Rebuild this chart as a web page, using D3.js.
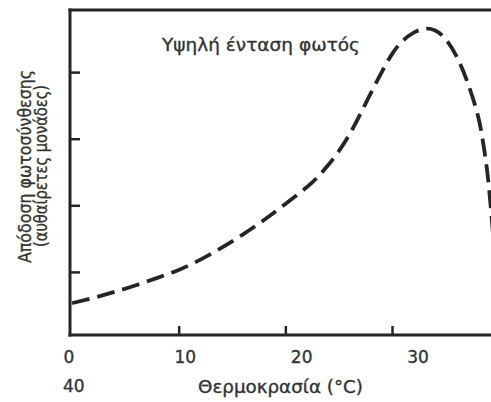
<!DOCTYPE html>
<html>
<head>
<meta charset="utf-8">
<script src="https://cdn.jsdelivr.net/npm/d3@7"></script>
<style>
  html, body { margin: 0; padding: 0; background: #fff; }
  svg { display: block; }
  text { font-family: "DejaVu Sans", "Liberation Sans", Arial, sans-serif; fill: #333; stroke: #333; stroke-width: 0.35px; }
</style>
</head>
<body>
<script>
// Temperature (°C) and photosynthesis rate (arbitrary units)
const temperature = [0, 2, 4, 6, 8, 10, 12, 14, 16, 18, 20, 22, 23, 24, 25, 26, 27, 28, 29, 30, 31, 32, 33, 34, 35, 36, 37, 38, 38.5, 39, 39.5, 40];
const rate =        [0.53, 0.61, 0.70, 0.80, 0.91, 1.03, 1.18, 1.36, 1.56, 1.78, 2.02, 2.27, 2.42, 2.60, 2.81, 3.06, 3.36, 3.68, 3.99, 4.27, 4.47, 4.59, 4.65, 4.63, 4.50, 4.25, 3.88, 3.38, 2.98, 2.40, 1.50, 0.50];
const xTicks = [10, 20, 30];
const yTicks = [1, 2, 3, 4];
const xTickLabels = ["0", "10", "20", "30", "40"];
const titleText = "Υψηλή ένταση φωτός";
const xTitle = "Θερμοκρασία (°C)";
const yTitle = ["Απόδοση φωτοσύνθεσης", "(αυθαίρετες μονάδες)"];

const W = 491, H = 402;
const svg = d3.select("body").append("svg").attr("width", W).attr("height", H);

const x = d3.scaleLinear().domain([0, 40]).range([72, 498.7]);
const y = d3.scaleLinear().domain([0, 5]).range([338.5, 5.5]);
// label positions in the picture are spread slightly wider than the ticks
const xLab = d3.scaleLinear().domain([0, 30]).range([69, 418]);

const axisY0 = 335, axisX0 = 70, frameTop = 10;
const ink = "#252525";

// frame: left, bottom, top
svg.append("line").attr("x1", axisX0).attr("x2", axisX0).attr("y1", frameTop - 1.5).attr("y2", axisY0 + 1.5)
  .attr("stroke", ink).attr("stroke-width", 3);
svg.append("line").attr("x1", axisX0 - 1.5).attr("x2", W).attr("y1", axisY0).attr("y2", axisY0)
  .attr("stroke", ink).attr("stroke-width", 3);
svg.append("line").attr("x1", axisX0 - 1.5).attr("x2", W).attr("y1", frameTop).attr("y2", frameTop)
  .attr("stroke", ink).attr("stroke-width", 3);

// x ticks (pointing up)
const xAxis = d3.axisTop(x).tickValues(xTicks).tickSize(9).tickFormat("");
const gx = svg.append("g").attr("transform", `translate(0,${axisY0})`).call(xAxis);
gx.select(".domain").remove();
gx.selectAll(".tick line").attr("stroke", ink).attr("stroke-width", 2.5);

// y ticks (pointing right)
const yAxis = d3.axisRight(y).tickValues(yTicks).tickSize(10).tickFormat("");
const gy = svg.append("g").attr("transform", `translate(${axisX0},0)`).call(yAxis);
gy.select(".domain").remove();
gy.selectAll(".tick line").attr("stroke", ink).attr("stroke-width", 2.5);

// x tick labels
svg.append("g").selectAll("text").data(xTickLabels.slice(0, 4)).join("text")
  .attr("x", d => xLab(+d)).attr("y", 363)
  .attr("text-anchor", "middle").attr("font-size", 17).text(d => d);
svg.append("text").attr("x", 63).attr("y", 392).attr("font-size", 17).text(xTickLabels[4]);

// axis titles
svg.append("text").attr("x", 198).attr("y", 393)
  .attr("font-size", 17).attr("textLength", 165).attr("lengthAdjust", "spacingAndGlyphs").text(xTitle);
const yt = svg.append("g").attr("transform", "translate(0,263) rotate(-90)");
yt.append("text").attr("x", 0).attr("y", 31).attr("font-size", 17)
  .attr("textLength", 193).attr("lengthAdjust", "spacingAndGlyphs").text(yTitle[0]);
yt.append("text").attr("x", 16).attr("y", 47).attr("font-size", 17)
  .attr("textLength", 162).attr("lengthAdjust", "spacingAndGlyphs").text(yTitle[1]);

// title inside plot
svg.append("text").attr("x", 162).attr("y", 51).attr("font-size", 17.5)
  .attr("textLength", 198).attr("lengthAdjust", "spacingAndGlyphs").text(titleText);

// curve
const line = d3.line().x((d, i) => x(temperature[i])).y(d => y(d)).curve(d3.curveNatural);
svg.append("path").datum(rate).attr("d", line)
  .attr("fill", "none").attr("stroke", ink).attr("stroke-width", 3.8)
  .attr("stroke-dasharray", "18,8");
</script>
</body>
</html>
